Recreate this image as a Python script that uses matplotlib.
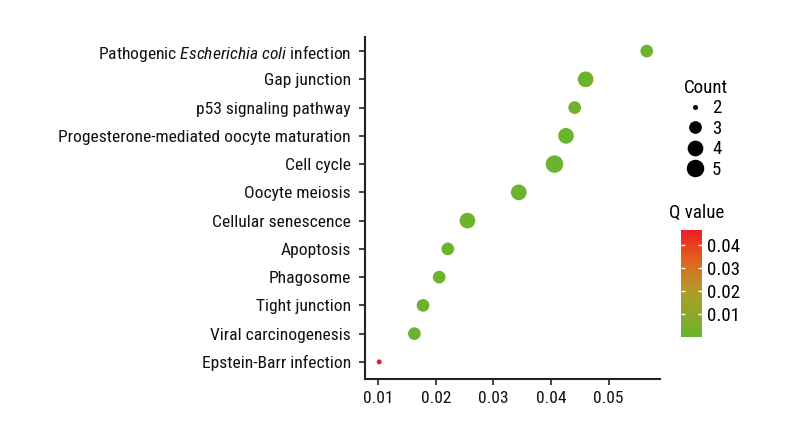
import matplotlib
matplotlib.use("Agg")
import matplotlib.pyplot as plt
from matplotlib import font_manager
from matplotlib.colors import LinearSegmentedColormap, Normalize
from matplotlib.lines import Line2D

# KEGG pathway enrichment, bottom row first
pathways = [
    "Epstein-Barr infection",
    "Viral carcinogenesis",
    "Tight junction",
    "Phagosome",
    "Apoptosis",
    "Cellular senescence",
    "Oocyte meiosis",
    "Cell cycle",
    "Progesterone-mediated oocyte maturation",
    "p53 signaling pathway",
    "Gap junction",
    r"Pathogenic $\it{Escherichia\ coli}$ infection",
]
rich_factor = [0.0102, 0.0163, 0.0178, 0.0206, 0.0221, 0.0255,
               0.0344, 0.0406, 0.0426, 0.0441, 0.0460, 0.0566]
counts = [2, 3, 3, 3, 3, 4, 4, 5, 4, 3, 4, 3]
q_values = [0.0467, 0.0012, 0.0010, 0.0010, 0.0011, 0.0008,
            0.0006, 0.0004, 0.0005, 0.0009, 0.0007, 0.0013]

count_levels = [2, 3, 4, 5]
x_ticks = [0.01, 0.02, 0.03, 0.04, 0.05]
q_ticks = [0.01, 0.02, 0.03, 0.04]

# pick a narrow sans face if one is installed
entries = font_manager.fontManager.ttflist
narrow = {"condensed", "semi-condensed", "extra-condensed"}
family, stretch = "DejaVu Sans", "normal"
for name in ["Liberation Sans Narrow", "Roboto Condensed", "Open Sans Condensed",
             "Noto Sans", "Open Sans", "Roboto", "DejaVu Sans"]:
    hits = [f for f in entries if f.name == name]
    if not hits:
        continue
    if name == "Liberation Sans Narrow" or "Condensed" in name:
        family, stretch = name, "normal"
        break
    if any(str(f.stretch) in narrow for f in hits):
        family, stretch = name, "condensed"
        break
print("font:", family, stretch)
plt.rcParams["font.family"] = family
plt.rcParams["font.stretch"] = stretch
plt.rcParams["mathtext.fontset"] = "custom"
plt.rcParams["mathtext.rm"] = family
plt.rcParams["mathtext.it"] = family + ":italic"

# scale the text so the longest label is about as wide as in the reference
fig = plt.figure(figsize=(8, 4.4), dpi=100)
probe = fig.text(0, 0, "Progesterone-mediated oocyte maturation", fontsize=13)
w = probe.get_window_extent(renderer=fig.canvas.get_renderer()).width
probe.remove()
fs = min(14.5, 13 * 290.0 / w)

# marker diameter (px) per gene count
diam_px = {2: 5.0, 3: 12.7, 4: 15.7, 5: 17.5}
def marker_area(c):
    return (diam_px[c] * 0.72) ** 2

cmap = LinearSegmentedColormap.from_list(
    "qv", [(0.0, "#6ab42d"), (0.45, "#b39a2a"), (0.72, "#e2621f"), (1.0, "#ec1c24")])
norm = Normalize(vmin=0.0, vmax=max(q_values))

ax = fig.add_axes([0.456, 0.139, 0.369, 0.777])

ypos = list(range(len(pathways)))
sc = ax.scatter(rich_factor, ypos, s=[marker_area(c) for c in counts],
                c=q_values, cmap=cmap, norm=norm, linewidths=0, zorder=3)

ax.set_xlim(0.0077, 0.0589)
ax.set_ylim(-0.6, len(pathways) - 0.5)
ax.set_xticks(x_ticks)
ax.set_xticklabels([f"{t:.2f}" for t in x_ticks])
ax.set_yticks(ypos)
ax.set_yticklabels(pathways)
ax.tick_params(axis="both", labelsize=fs, length=4, width=1.2, color="#222222",
               labelcolor="#111111")
ax.tick_params(axis="y", pad=6)
ax.tick_params(axis="x", pad=5)
for side in ("top", "right"):
    ax.spines[side].set_visible(False)
for side in ("left", "bottom"):
    ax.spines[side].set_linewidth(1.5)
    ax.spines[side].set_color("#222222")

# size legend
lfs = fs + 1
handles = [Line2D([], [], linestyle="none", marker="o", color="black",
                  markersize=diam_px[c] * 0.72, markeredgewidth=0)
           for c in count_levels]
leg = fig.legend(handles, [str(c) for c in count_levels], title="Count",
                 loc="upper left", bbox_to_anchor=(0.843, 0.842), frameon=False,
                 fontsize=lfs, title_fontsize=lfs, handletextpad=0.3,
                 labelspacing=0.13, borderpad=0, handlelength=1.2,
                 alignment="left")

# colour bar
cax = fig.add_axes([0.851, 0.234, 0.027, 0.243])
cb = fig.colorbar(sc, cax=cax, ticks=q_ticks)
cb.outline.set_visible(False)
cb.ax.tick_params(labelsize=lfs, length=3, width=1, color="white", direction="in",
                  left=True, pad=3)
cb.ax.set_yticklabels([f"{t:.2f}" for t in q_ticks])
fig.text(0.836, 0.495, "Q value", fontsize=lfs, ha="left", va="bottom")

fig.savefig("out.png", dpi=100)
